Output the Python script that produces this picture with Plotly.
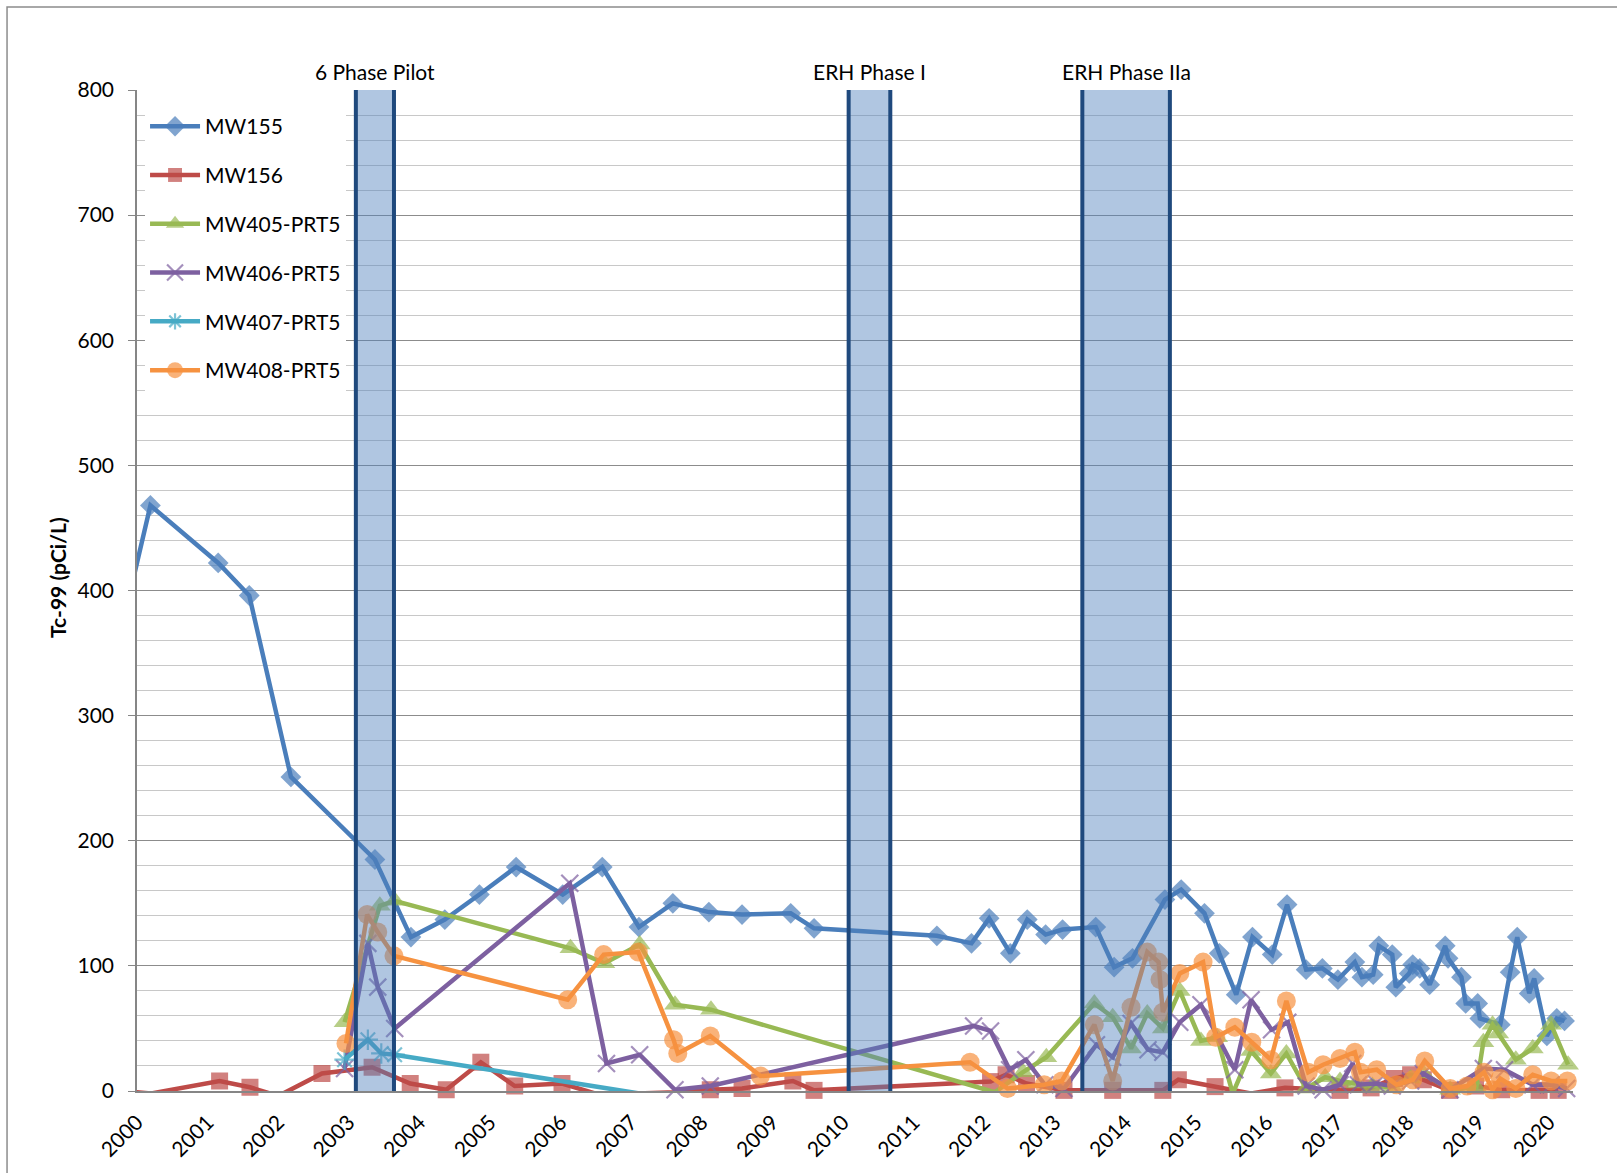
import numpy as np
import plotly.graph_objects as go

# Sample dates (decimal years) and Tc-99 activity (pCi/L) for each well
mw155_t = [1999.78, 2000.19, 2001.15, 2001.59, 2002.18, 2003.37, 2003.88, 2004.36, 2004.85, 2005.37,
           2006.03, 2006.59, 2007.11, 2007.59, 2008.10, 2008.57, 2009.26, 2009.59, 2011.33, 2011.82,
           2012.07, 2012.37, 2012.61, 2012.87, 2013.11, 2013.58, 2013.84, 2014.10, 2014.56, 2014.79,
           2015.12, 2015.33, 2015.57, 2015.80, 2016.08, 2016.29, 2016.56, 2016.79, 2017.01, 2017.25,
           2017.35, 2017.51, 2017.59, 2017.78, 2017.83, 2018.02, 2018.07, 2018.17, 2018.31, 2018.53,
           2018.57, 2018.76, 2018.82, 2018.99, 2019.02, 2019.31, 2019.45, 2019.55, 2019.72, 2019.79,
           2019.97, 2020.11, 2020.22]
mw155_v = [369, 468, 422, 396, 251, 185, 123, 137, 157, 179,
           157, 179, 131, 150, 143, 141, 142, 130, 124, 118,
           138, 110, 137, 125, 129, 131, 99, 106, 153, 161,
           142, 110, 77, 123, 109, 149, 97, 98, 89, 103,
           91, 93, 116, 109, 83, 94, 101, 98, 85, 116,
           106, 91, 70, 70, 58, 53, 95, 123, 78, 90,
           44, 58, 56]

mw156_t = [1999.80, 2000.20, 2001.17, 2001.60, 2002.00, 2002.62, 2003.33, 2003.87, 2004.38, 2004.87,
           2005.35, 2006.02, 2006.55, 2007.10, 2007.62, 2008.12, 2008.57, 2009.29, 2009.59, 2012.09,
           2012.31, 2012.60, 2013.13, 2013.82, 2014.53, 2014.75, 2015.27, 2015.78, 2016.26, 2017.04,
           2017.48, 2017.81, 2018.04, 2018.22, 2018.59, 2018.96, 2019.33, 2019.86, 2020.13]
mw156_v = [0, -2, 8, 3, -4, 14, 19, 6, 1, 23,
           4, 6, -3, -2, -1, 1, 2, 8, 0.5, 7.5,
           13, 6, 0.5, 0.5, 0.5, 9, 3.5, -2, 2.5, 0.5,
           2.5, 10, 13, 9, 0.5, 4, 1, 0.5, 0.5]

mw405_t = [2002.94, 2003.44, 2003.65, 2006.14, 2006.62, 2007.12, 2007.62, 2008.13, 2012.15, 2012.55,
           2012.88, 2013.56, 2013.82, 2014.08, 2014.31, 2014.53, 2014.77, 2015.07, 2015.30, 2015.52,
           2015.78, 2016.06, 2016.28, 2016.56, 2016.83, 2017.04, 2017.27, 2017.50, 2017.78, 2018.04,
           2018.22, 2018.60, 2018.97, 2019.07, 2019.20, 2019.28, 2019.53, 2019.77, 2020.03, 2020.27]
mw405_v = [55, 148, 152, 114, 102, 117, 69, 65, -1, 15,
           27, 70, 59, 34, 62, 50, 80, 40, 43, -2,
           32, 14, 30, 2, 11, 8, 6, 4, 3, 10,
           14, 1, 3, 39, 53, 46, 25, 34, 53, 21]

mw406_t = [2002.94, 2003.27, 2003.41, 2003.65, 2006.13, 2006.65, 2007.12, 2007.62, 2008.12, 2011.85,
           2012.09, 2012.36, 2012.59, 2012.86, 2013.13, 2013.59, 2013.82, 2014.08, 2014.32, 2014.53,
           2014.77, 2015.07, 2015.55, 2015.78, 2016.07, 2016.30, 2016.56, 2016.80, 2017.04, 2017.22,
           2017.30, 2017.55, 2017.78, 2018.04, 2018.22, 2018.60, 2019.07, 2019.37, 2019.77, 2020.03,
           2020.25]
mw406_v = [18, 118, 83, 50, 166, 22, 29, 1, 4, 52,
           48, 17, 25, 5, 2, 37, 27, 54, 33, 31,
           55, 69, 17, 73, 49, 55, 4, 1, 5, 22,
           5, 6, 4, 8, 14, 1, 18, 17, 5, 5,
           2]

mw407_t = [2002.94, 2003.27, 2003.46, 2003.65, 2007.12]
mw407_v = [25, 41, 30, 29, -2]

mw408_t = [2002.96, 2003.26, 2003.41, 2003.64, 2006.10, 2006.61, 2007.10, 2007.60, 2007.66, 2008.12,
           2008.83, 2011.80, 2012.33, 2012.85, 2013.10, 2013.56, 2013.82, 2014.08, 2014.31, 2014.47,
           2014.49, 2014.53, 2014.77, 2015.10, 2015.28, 2015.55, 2015.79, 2016.06, 2016.28, 2016.59,
           2016.80, 2017.04, 2017.25, 2017.33, 2017.56, 2017.84, 2018.07, 2018.24, 2018.60, 2018.84,
           2019.08, 2019.20, 2019.31, 2019.53, 2019.77, 2020.03, 2020.26]
mw408_v = [38, 141, 127, 108, 73, 109, 111, 41, 30, 44,
           12, 23, 2, 5, 8, 53, 8, 67, 111, 103,
           89, 63, 94, 103, 43, 51, 39, 25, 72, 15,
           21, 26, 31, 15, 17, 5, 9, 24, 2, 4,
           15, 1, 10, 2, 13, 8, 8]

# Remediation periods
band_names = ["6 Phase Pilot", "ERH Phase I", "ERH Phase IIa"]
band_start = [2003.10, 2010.08, 2013.39]
band_end = [2003.64, 2010.67, 2014.63]

year_ticks = list(range(2000, 2021))
x_min, x_max = 2000.0, 2020.34
y_min, y_max = 0, 800

FONT = "Lato, 'Open Sans', sans-serif"

series = [
    ("MW155", mw155_t, mw155_v, "#4A7EBB", "diamond", 16, 0),
    ("MW156", mw156_t, mw156_v, "#BE4B48", "square", 17, 0),
    ("MW405-PRT5", mw405_t, mw405_v, "#98B954", "triangle-up", 19, 0),
    ("MW406-PRT5", mw406_t, mw406_v, "#7D60A0", "x-thin-open", 17, 2.2),
    ("MW407-PRT5", mw407_t, mw407_v, "#46AAC5", "asterisk-open", 17, 2.2),
    ("MW408-PRT5", mw408_t, mw408_v, "#F69240", "circle", 19, 0),
]

fig = go.Figure()
for name, t, v, color, symbol, size, mlw in series:
    t_arr = np.asarray(t, dtype=float)
    v_arr = np.asarray(v, dtype=float)
    # markers are only drawn for samples inside the axis window
    sizes = np.where((t_arr >= x_min) & (v_arr >= y_min), size, 0)
    fig.add_trace(go.Scatter(
        x=t_arr, y=v_arr, name=name, mode="lines+markers",
        legendgroup=name,
        line=dict(color=color, width=4.5),
        marker=dict(symbol=symbol, size=sizes, color=color,
                    line=dict(color=color, width=mlw)),
        cliponaxis=False,
    ))

shapes = []
# outer chart frame
shapes.append(dict(type="rect", xref="paper", yref="paper",
                   x0=-0.0905, x1=1.2, y0=-0.2, y1=1.0829,
                   line=dict(color="#8C8C8C", width=1.5), layer="below"))
annotations = []
for name, a, b in zip(band_names, band_start, band_end):
    shapes.append(dict(type="rect", xref="x", yref="y", x0=a, x1=b, y0=y_min, y1=y_max,
                       fillcolor="#4F81BD", opacity=0.45, line=dict(width=0), layer="above"))
    for edge in (a, b):
        shapes.append(dict(type="line", xref="x", yref="y", x0=edge, x1=edge, y0=y_min, y1=y_max,
                           line=dict(color="#1F497D", width=4), layer="above"))
    annotations.append(dict(x=(a + b) / 2, y=1.018, xref="x", yref="paper", text=name,
                            showarrow=False, xanchor="center", yanchor="middle",
                            font=dict(size=21, family=FONT, color="black")))

annotations.append(dict(x=-0.055, y=0.5125, xref="paper", yref="paper",
                        text="<b>Tc-99 (pCi/L)</b>", textangle=-90, showarrow=False,
                        xanchor="center", yanchor="middle",
                        font=dict(size=21, family=FONT, color="black")))

fig.update_layout(
    width=1617, height=1173,
    margin=dict(l=137, r=44, t=90, b=82, pad=0),
    paper_bgcolor="white", plot_bgcolor="white",
    font=dict(family=FONT, size=20, color="black"),
    shapes=shapes, annotations=annotations,
    legend=dict(x=0.0056, y=0.984, xanchor="left", yanchor="top",
                bgcolor="white", borderwidth=0, font=dict(size=21, family=FONT),
                traceorder="grouped", tracegroupgap=18.5, itemwidth=50),
    xaxis=dict(range=[x_min, x_max], tickmode="array", tickvals=year_ticks,
               ticktext=[str(y) for y in year_ticks], tickangle=-45,
               showgrid=False, zeroline=False, showline=True,
               linecolor="#868686", linewidth=1.5, ticks="",
               ticklabelstandoff=9,
               tickfont=dict(size=21, family=FONT)),
    yaxis=dict(range=[y_min, y_max], tickmode="linear", tick0=0, dtick=100,
               showgrid=True, gridcolor="#8C8C8C", gridwidth=1,
               minor=dict(dtick=20, showgrid=True, gridcolor="#C8C8C8", gridwidth=1),
               ticks="outside", ticklen=7, tickcolor="#868686",
               showline=True, linecolor="#868686", linewidth=1.5, zeroline=False,
               ticklabelstandoff=10,
               tickfont=dict(size=21, family=FONT)),
)

fig.write_html("out.html")
